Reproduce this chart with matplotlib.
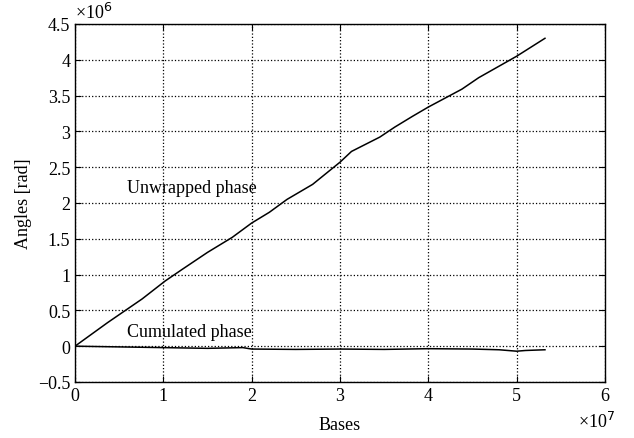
import numpy as np
import matplotlib.pyplot as plt

plt.rcParams['font.family'] = ['Liberation Serif', 'DejaVu Serif']

# bases in units of 1e7, angles in units of 1e6 rad
x_unwrapped = [0, 0.37, 0.76, 1.02, 1.21, 1.5, 1.78, 2.0, 2.2, 2.4, 2.69,
               3.0, 3.13, 3.45, 3.62, 3.82, 4.0, 4.38, 4.57, 5.0, 5.32]
y_unwrapped = [0, 0.33, 0.66, 0.91, 1.07, 1.31, 1.52, 1.72, 1.87, 2.05, 2.26,
               2.57, 2.72, 2.92, 3.06, 3.21, 3.34, 3.59, 3.75, 4.05, 4.30]

x_cumulated = [0, 0.5, 1.0, 1.5, 1.9, 2.0, 2.5, 3.0, 3.5, 4.0, 4.5, 4.8,
               5.0, 5.1, 5.32]
y_cumulated = [0, -0.01, -0.02, -0.03, -0.02, -0.04, -0.045, -0.04, -0.045,
               -0.035, -0.04, -0.05, -0.07, -0.06, -0.05]

xticks = [0, 1, 2, 3, 4, 5, 6]
yticks = [-0.5, 0, 0.5, 1, 1.5, 2, 2.5, 3, 3.5, 4, 4.5]

fig = plt.figure(figsize=(6.34, 4.39), dpi=100)
ax = fig.add_axes([0.1183, 0.1276, 0.8360, 0.8155])

ax.plot(x_unwrapped, y_unwrapped, color='black', lw=1.1)
ax.plot(x_cumulated, y_cumulated, color='black', lw=1.1)

ax.set_xlim(0, 6)
ax.set_ylim(-0.5, 4.5)
ax.set_xticks(xticks)
ax.set_yticks(yticks)
ax.set_xticklabels(['%g' % v for v in xticks])
ax.set_yticklabels([('%g' % v).replace('-', '\u2212') for v in yticks])
ax.tick_params(direction='in', top=True, right=True, labelsize=13, length=4)
ax.grid(True, linestyle=':', color='black', lw=0.9)
for s in ax.spines.values():
    s.set_linewidth(1.0)

ax.set_xlabel('Bases', fontsize=13, labelpad=9)
ax.set_ylabel('Angles [rad]', fontsize=13)

ax.text(0.59, 2.22, 'Unwrapped phase', fontsize=13, va='center')
ax.text(0.59, 0.21, 'Cumulated phase', fontsize=13, va='center')

ax.text(0, 1.005, '\u00d710$^{6}$', transform=ax.transAxes, fontsize=13,
        ha='left', va='bottom')
ax.text(0.985, -0.11, '\u00d710$^{7}$', transform=ax.transAxes, fontsize=13,
        ha='center', va='center')

fig.savefig('out.png', dpi=100)
